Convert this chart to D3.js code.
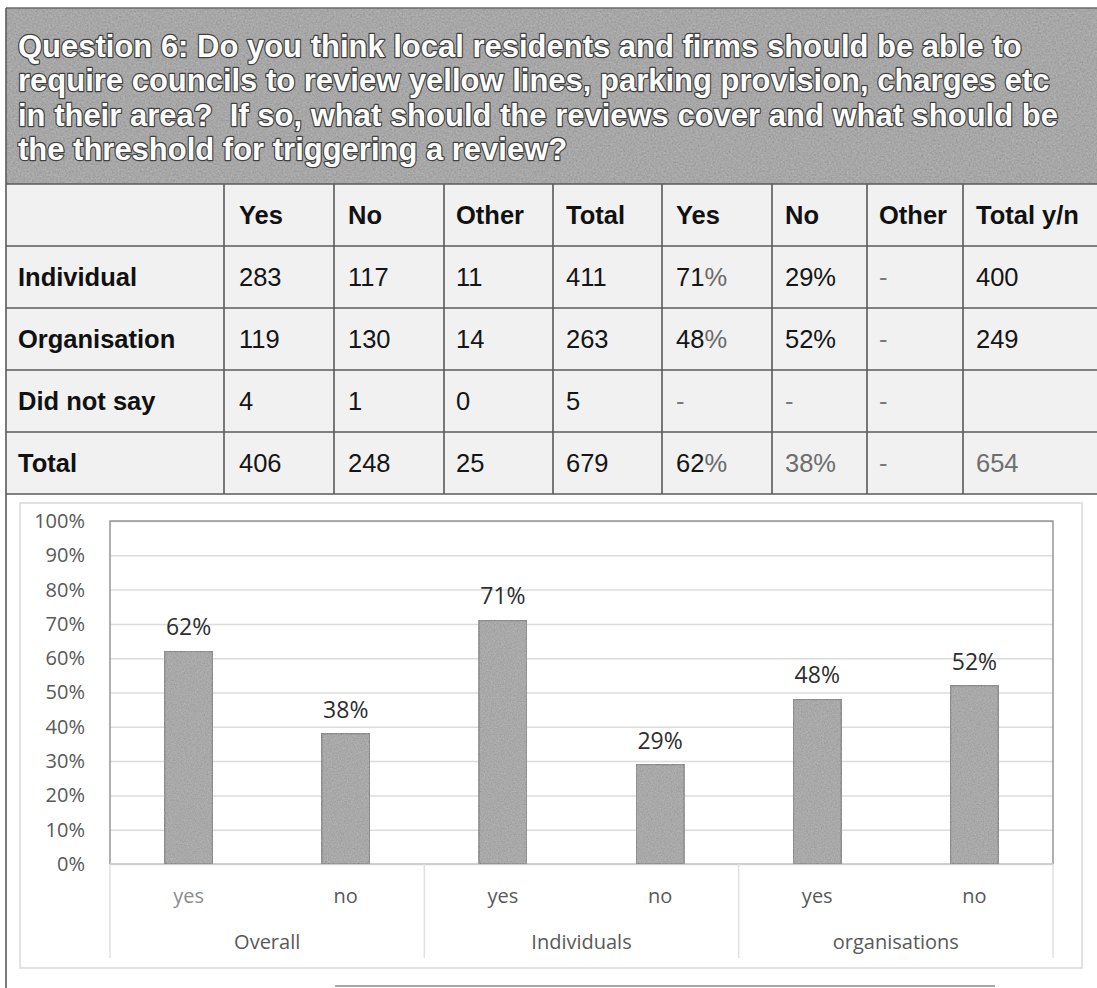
<!DOCTYPE html>
<html>
<head>
<meta charset="utf-8">
<script src="https://cdn.jsdelivr.net/npm/d3@7"></script>
<style>
  html, body { margin: 0; padding: 0; background: #ffffff; }
  svg { display: block; }
</style>
</head>
<body>
<svg id="page" width="1097" height="988"></svg>
<script>
// ---- Question heading ----
const questionLines = [
  "Question 6: Do you think local residents and firms should be able to",
  "require councils to review yellow lines, parking provision, charges etc",
  "in their area?  If so, what should the reviews cover and what should be",
  "the threshold for triggering a review?"
];

// ---- Response table ----
const tableHeaders = ["", "Yes", "No", "Other", "Total", "Yes", "No", "Other", "Total y/n"];
const tableRowLabels = ["Individual", "Organisation", "Did not say", "Total"];
const yesCounts   = ["283", "119", "4", "406"];
const noCounts    = ["117", "130", "1", "248"];
const otherCounts = ["11", "14", "0", "25"];
const totalCounts = ["411", "263", "5", "679"];
const yesShare    = ["71%", "48%", "-", "62%"];
const noShare     = ["29%", "52%", "-", "38%"];
const otherShare  = ["-", "-", "-", "-"];
const totalYesNo  = ["400", "249", "", "654"];

// ---- Bar chart ----
const groups = ["Overall", "Individuals", "organisations"];
const answers = ["yes", "no"];
const percentValues = [62, 38, 71, 29, 48, 52];   // Overall yes/no, Individuals yes/no, organisations yes/no
const yTickValues = [0, 10, 20, 30, 40, 50, 60, 70, 80, 90, 100];

const svg = d3.select("#page");
const defs = svg.append("defs");

// paper grain used on the heading band and the bars
function grainFilter(id, freq, alpha, seed) {
  const f = defs.append("filter").attr("id", id)
    .attr("x", 0).attr("y", 0).attr("width", "100%").attr("height", "100%");
  f.append("feTurbulence").attr("type", "fractalNoise")
    .attr("baseFrequency", freq).attr("numOctaves", 2).attr("seed", seed).attr("result", "noise");
  f.append("feColorMatrix").attr("in", "noise").attr("type", "matrix")
    .attr("values", `0.33 0.33 0.33 0 0  0.33 0.33 0.33 0 0  0.33 0.33 0.33 0 0  0 0 0 0 ${alpha}`)
    .attr("result", "gray");
  f.append("feComposite").attr("in", "gray").attr("in2", "SourceGraphic")
    .attr("operator", "in").attr("result", "clipped");
  const m = f.append("feMerge");
  m.append("feMergeNode").attr("in", "SourceGraphic");
  m.append("feMergeNode").attr("in", "clipped");
}
grainFilter("grainHead", 0.55, 0.35, 4);
grainFilter("grainBar", 0.7, 0.3, 9);

const frameColor = "#5a5a5a";
const pageLeft = 6;

// ---------- heading band ----------
const head = { x0: pageLeft, x1: 1097, y0: 8, y1: 184 };
svg.append("rect")
  .attr("x", head.x0).attr("y", head.y0)
  .attr("width", head.x1 - head.x0).attr("height", head.y1 - head.y0)
  .attr("fill", "#9b9b9b").attr("filter", "url(#grainHead)");

const headText = svg.append("g")
  .attr("font-family", "'Liberation Sans', Arial, sans-serif")
  .attr("font-weight", "bold")
  .attr("fill", "#ffffff")
  .attr("stroke", "#404040").attr("stroke-width", 2.4)
  .attr("stroke-linejoin", "round").attr("paint-order", "stroke");

const headLines = headText.selectAll("text").data(questionLines).join("text")
  .attr("xml:space", "preserve")
  .style("white-space", "pre")
  .attr("x", 18)
  .attr("y", (d, i) => 57 + i * 34.3)
  .attr("font-size", 100)
  .text(d => d);
// size the heading so the first line spans the band as set
const firstWidth = headLines.nodes()[0].getComputedTextLength();
headLines.attr("font-size", 100 * 1004 / firstWidth);

// ---------- table ----------
const colEdges = [pageLeft, 224, 334, 444, 553, 662, 772, 867, 963, 1097];
const rowEdges = [184, 246, 308, 370, 432, 494];
const cellPad = [12, 15, 14, 12, 13, 14, 13, 12, 13];

svg.append("rect")
  .attr("x", pageLeft).attr("y", rowEdges[0])
  .attr("width", 1097 - pageLeft).attr("height", rowEdges[rowEdges.length - 1] - rowEdges[0])
  .attr("fill", "#f1f1f1");

const tableBody = [yesCounts, noCounts, otherCounts, totalCounts, yesShare, noShare, otherShare, totalYesNo];

const tableG = svg.append("g")
  .attr("font-family", "'Liberation Sans', Arial, sans-serif")
  .attr("font-size", 25.5);

const rowMid = i => (rowEdges[i] + rowEdges[i + 1]) / 2;

// header row
tableG.selectAll("text.head").data(tableHeaders).join("text")
  .attr("class", "head")
  .attr("x", (d, i) => colEdges[i] + cellPad[i])
  .attr("y", rowMid(0) + 9)
  .attr("font-weight", "bold").attr("fill", "#111")
  .text(d => d);

// row labels
tableG.selectAll("text.rowlab").data(tableRowLabels).join("text")
  .attr("class", "rowlab")
  .attr("x", colEdges[0] + cellPad[0])
  .attr("y", (d, i) => rowMid(i + 1) + 9)
  .attr("font-weight", "bold").attr("fill", "#111")
  .text(d => d);

// body cells
const lighter = new Set(["38%", "654"]);
tableBody.forEach((col, c) => {
  const ci = c + 1;
  col.forEach((val, r) => {
    const t = tableG.append("text")
      .attr("x", colEdges[ci] + cellPad[ci])
      .attr("y", rowMid(r + 1) + 9)
      .attr("fill", val === "-" ? "#7a7a7a" : (lighter.has(val) && r === 3 ? "#6e6e6e" : "#151515"));
    if (ci === 5 && val.endsWith("%")) {
      t.append("tspan").text(val.slice(0, -1));
      t.append("tspan").attr("fill", "#6a6a6a").text("%");
    } else {
      t.text(val);
    }
  });
});

// table rules
const rules = svg.append("g").attr("stroke", frameColor).attr("stroke-width", 1.6);
rules.selectAll("line.h").data(rowEdges).join("line")
  .attr("class", "h")
  .attr("x1", pageLeft).attr("x2", 1097)
  .attr("y1", d => d).attr("y2", d => d);
rules.selectAll("line.v").data(colEdges.slice(1, -1)).join("line")
  .attr("class", "v")
  .attr("x1", d => d).attr("x2", d => d)
  .attr("y1", rowEdges[0]).attr("y2", rowEdges[rowEdges.length - 1]);

// heading top edge and page left edge
svg.append("line").attr("x1", pageLeft).attr("x2", 1097).attr("y1", head.y0).attr("y2", head.y0)
  .attr("stroke", "#6a6a6a").attr("stroke-width", 1.6);
svg.append("line").attr("x1", pageLeft).attr("x2", pageLeft).attr("y1", head.y0).attr("y2", 988)
  .attr("stroke", frameColor).attr("stroke-width", 1.6);

// ---------- chart ----------
const chartFrame = { x0: 20, x1: 1082, y0: 503, y1: 968 };
svg.append("rect")
  .attr("x", chartFrame.x0).attr("y", chartFrame.y0)
  .attr("width", chartFrame.x1 - chartFrame.x0).attr("height", chartFrame.y1 - chartFrame.y0)
  .attr("fill", "#ffffff").attr("stroke", "#d9d9d9").attr("stroke-width", 1.5);

const plot = { x0: 110, x1: 1053, y0: 521, y1: 864 };
const y = d3.scaleLinear().domain([0, 100]).range([plot.y1, plot.y0]);
const slots = d3.range(percentValues.length);
const x = d3.scaleBand().domain(slots).range([plot.x0, plot.x1])
  .paddingInner(0.695).paddingOuter(0.3475);
const xGroup = d3.scaleBand().domain(groups).range([plot.x0, plot.x1]);

const chartFont = "'Open Sans', 'Noto Sans', sans-serif";

// gridlines
svg.append("g")
  .attr("transform", `translate(${plot.x0},0)`)
  .call(d3.axisLeft(y).tickValues(yTickValues).tickSize(-(plot.x1 - plot.x0)).tickFormat(""))
  .call(g => g.select(".domain").remove())
  .call(g => g.selectAll(".tick line").attr("stroke", "#dcdcdc").attr("stroke-width", 1.5));

// plot frame
svg.append("rect")
  .attr("x", plot.x0).attr("y", plot.y0)
  .attr("width", plot.x1 - plot.x0).attr("height", plot.y1 - plot.y0)
  .attr("fill", "none").attr("stroke", "#8f8f8f").attr("stroke-width", 1.4);
svg.append("line").attr("x1", plot.x0).attr("x2", plot.x1).attr("y1", plot.y1).attr("y2", plot.y1)
  .attr("stroke", "#dcdcdc").attr("stroke-width", 1.6);

// y tick labels
svg.append("g")
  .attr("transform", `translate(${plot.x0 - 22},0)`)
  .call(d3.axisLeft(y).tickValues(yTickValues).tickSize(0).tickFormat(d => d + "%"))
  .call(g => g.select(".domain").remove())
  .call(g => g.selectAll("text")
    .attr("font-family", chartFont).attr("font-size", 20).attr("fill", "#595959"));

// bars
svg.append("g").selectAll("rect").data(percentValues).join("rect")
  .attr("x", (d, i) => x(i))
  .attr("width", x.bandwidth())
  .attr("y", d => y(d))
  .attr("height", d => y(0) - y(d))
  .attr("fill", "#a0a0a0")
  .attr("stroke", "#747474").attr("stroke-width", 1.5)
  .attr("filter", "url(#grainBar)");

// value labels
svg.append("g").selectAll("text").data(percentValues).join("text")
  .attr("x", (d, i) => x(i) + x.bandwidth() / 2)
  .attr("y", d => y(d) - 16)
  .attr("text-anchor", "middle")
  .attr("font-family", chartFont).attr("font-size", 23).attr("fill", "#2e2e2e")
  .text(d => d + "%");

// category labels (answer within group)
svg.append("g").selectAll("text").data(slots).join("text")
  .attr("x", i => x(i) + x.bandwidth() / 2)
  .attr("y", 903)
  .attr("text-anchor", "middle")
  .attr("font-family", chartFont).attr("font-size", 20)
  .attr("fill", i => i === 0 ? "#8c8c8c" : "#595959")
  .text(i => answers[i % answers.length]);

// group labels
svg.append("g").selectAll("text").data(groups).join("text")
  .attr("x", d => xGroup(d) + xGroup.bandwidth() / 2)
  .attr("y", 949)
  .attr("text-anchor", "middle")
  .attr("font-family", chartFont).attr("font-size", 20).attr("fill", "#595959")
  .text(d => d);

// group dividers under the axis
const dividers = groups.map(g => xGroup(g)).concat([plot.x1]);
svg.append("g").selectAll("line").data(dividers).join("line")
  .attr("x1", d => d).attr("x2", d => d)
  .attr("y1", plot.y1).attr("y2", 958)
  .attr("stroke", "#e0e0e0").attr("stroke-width", 1.5);

// rule of the following table at the foot of the page
svg.append("line").attr("x1", 335).attr("x2", 995).attr("y1", 986).attr("y2", 986)
  .attr("stroke", "#8a8a8a").attr("stroke-width", 1.5);
</script>
</body>
</html>
